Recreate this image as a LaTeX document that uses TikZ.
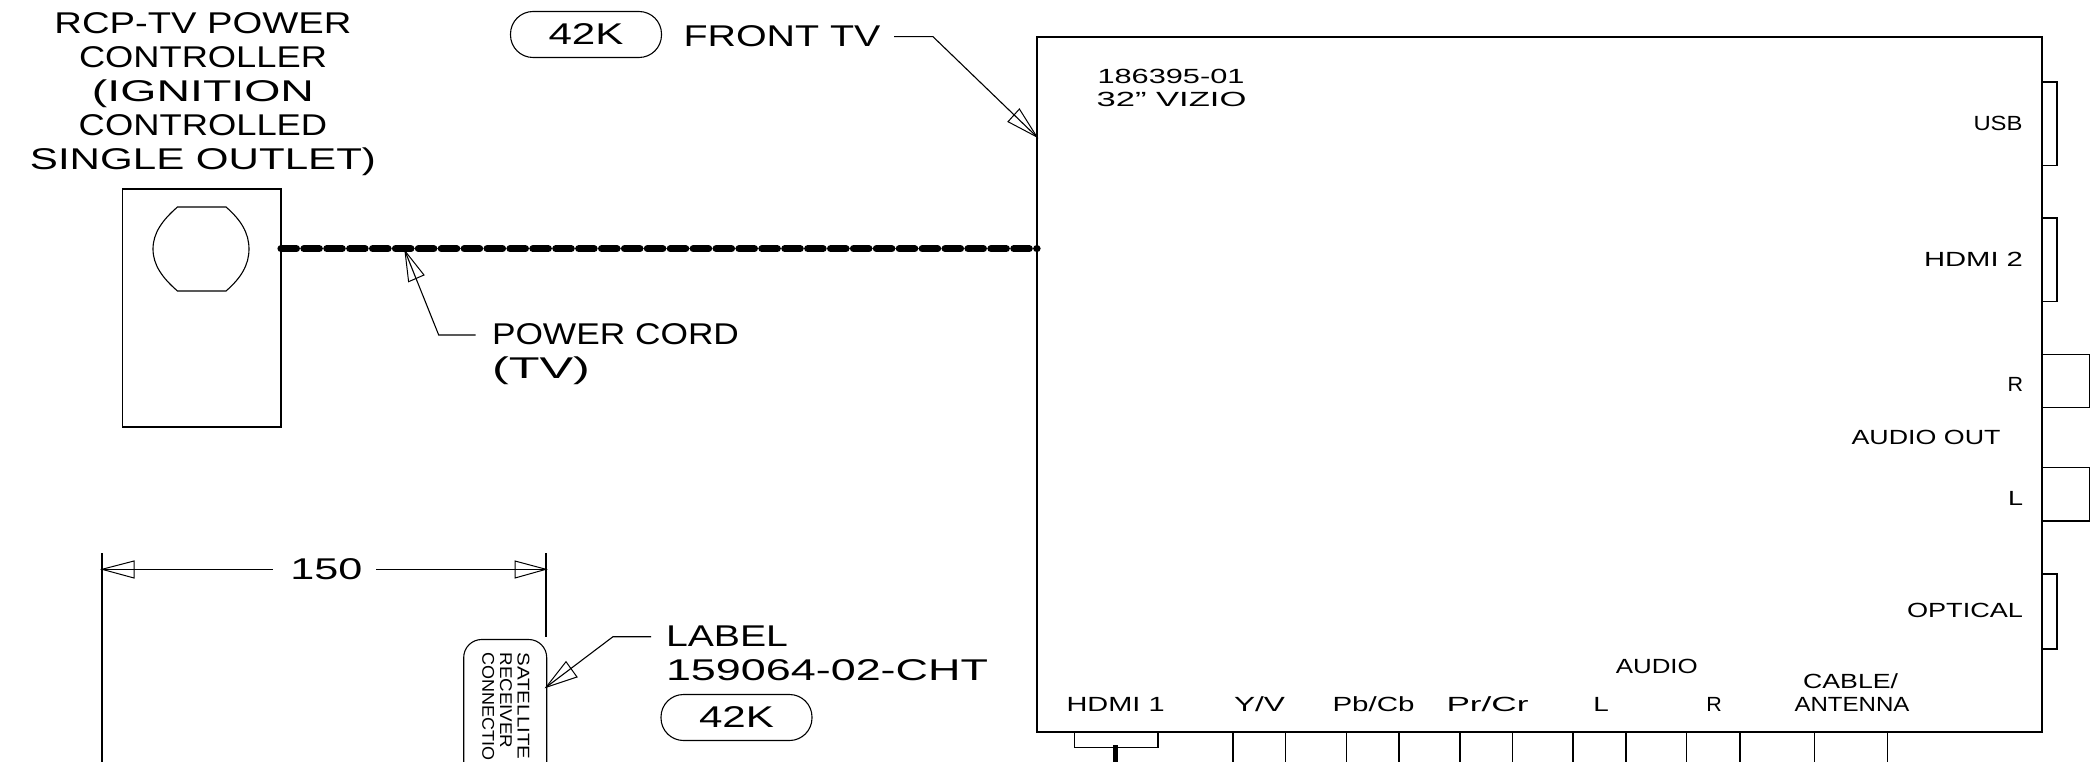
\documentclass[tikz,border=0pt]{standalone}
\usepackage{graphicx}
\usepackage{fontspec}
\setmainfont{Liberation Sans}
\newcommand\wt[2]{\resizebox{#1pt}{\height}{#2}}
\tikzset{
  line/.style={draw=black,line width=1.1pt},
  big/.style={font=\fontsize{30}{34}\selectfont,inner sep=0pt,outer sep=0pt,text=black},
  small/.style={font=\fontsize{20.5}{22}\selectfont,inner sep=0pt,outer sep=0pt,text=black},
  pill/.style={line,rounded corners=22.5pt,minimum width=151pt,minimum height=46pt,inner sep=0pt,outer sep=0pt,font=\fontsize{30}{34}\selectfont},
  head/.style={line,line width=1pt,fill=white,line join=miter},
  cord/.style={draw=black,line width=7.2pt,line cap=round,dash pattern=on 15.4pt off 7.5pt},
  tvbox/.style={draw=black,line width=1.7pt,inner sep=0pt,outer sep=0pt,minimum width=1005pt,minimum height=695.3pt},
  ctrlbox/.style={line,inner sep=0pt,outer sep=0pt,minimum width=158.5pt,minimum height=238pt}
}
\begin{document}
\begin{tikzpicture}[x=1pt,y=-1pt]
\useasboundingbox (0,0) rectangle (2091,762);
\clip (0,0) rectangle (2091,762);
\fill[white] (0,0) rectangle (2091,762);

% boxes
\node[tvbox] (tv) at (1539.5,384.65) {};
\node[ctrlbox] (ctrl) at (201.75,308) {};
\draw[line] (177.5,207) -- (226,207) .. controls (241,220) and (249,233) .. (249,249)
  .. controls (249,265) and (241,278) .. (226,291) -- (177.5,291)
  .. controls (162.5,278) and (153,265) .. (153,249)
  .. controls (153,233) and (162.5,220) .. (177.5,207) -- cycle;

% title
\node[big,align=center,anchor=base] (title) at (203,169.5) {\wt{297}{RCP-TV POWER}\\\wt{248}{CONTROLLER}\\\wt{222}{(IGNITION}\\\wt{248.5}{CONTROLLED}\\\wt{346}{SINGLE OUTLET)}};

% front TV
\node[pill] (pillA) at (586,34.5) {\wt{75}{42K}};
\node[big,anchor=base west] (front) at (683.5,46.7) {\wt{197}{FRONT TV}};
\coordinate (frontA) at (894,36.7);
\coordinate (frontB) at (933,36.7);
\coordinate (frontT) at (1037,137);
\coordinate (frontH1) at (1008,121.7);
\coordinate (frontH2) at (1019.4,109);
\draw[head] (frontT) -- (frontH1) -- (frontH2) -- cycle;
\draw[line] (frontA) -- (frontB) -- (frontT);

% power cord
\coordinate (cordA) at (281,248.7);
\coordinate (cordB) at (1037,248.7);
\draw[cord] (cordA) -- (cordB);
\node[big,align=left,anchor=base west] (cordlabel) at (492,378) {\wt{247}{POWER CORD}\\\wt{98}{(TV)}};
\coordinate (pcA) at (475.5,335);
\coordinate (pcB) at (438.7,335);
\coordinate (pcT) at (405,251);
\coordinate (pcH1) at (408.6,281.7);
\coordinate (pcH2) at (424,275);
\draw[head] (pcT) -- (pcH1) -- (pcH2) -- cycle;
\draw[line] (pcA) -- (pcB) -- (pcT);

% dimension
\coordinate (dimL0) at (102,553);
\coordinate (dimL1) at (102,762);
\coordinate (dimR0) at (546,553);
\coordinate (dimR1) at (546,636.7);
\coordinate (dimL) at (102,569.3);
\coordinate (dimR) at (546,569.3);
\draw[line] (dimL0) -- (dimL1);
\draw[line] (dimR0) -- (dimR1);
\node[big,anchor=base] (dimtext) at (326.5,579) {\wt{72}{150}};
\draw[head] (dimL) -- (134,561) -- (134,578) -- cycle;
\draw[head] (dimR) -- (515,561) -- (515,578) -- cycle;
\draw[line] (dimL) -- (272.6,569.3);
\draw[line] (376.4,569.3) -- (dimR);

% satellite label
\draw[line,rounded corners=18pt] (463.7,775) -- (463.7,639.5) -- (546.7,639.5) -- (546.7,775);
\node[font=\fontsize{17}{17.6}\selectfont,inner sep=0pt,outer sep=0pt,rotate=-90,anchor=north west,align=left] (satlabel) at (529.5,652.5) {\wt{107}{SATELLITE}\\\wt{96}{RECEIVER}\\\wt{108}{CONNECTIO}};
\coordinate (lblA) at (651,636.7);
\coordinate (lblB) at (613,636.7);
\coordinate (lblT) at (546,687.3);
\coordinate (lblH1) at (566,661.7);
\coordinate (lblH2) at (577,677);
\draw[head] (lblT) -- (lblH1) -- (lblH2) -- cycle;
\draw[line] (lblA) -- (lblB) -- (lblT);
\node[big,align=left,anchor=base west] (lbltext) at (666,680) {\wt{122}{LABEL}\\\wt{322}{159064-02-CHT}};
\node[pill] (pillB) at (736.5,717.5) {\wt{75}{42K}};

% TV text
\node[small,anchor=base west] (modelA) at (1097.5,84) {\wt{147}{186395-01}};
\node[small,anchor=base west] (modelB) at (1096.5,106.7) {\wt{150}{32" VIZIO}};

% right ports
\draw[line] (tv.east |- 0,82) -| (2057,165.7) -- (tv.east |- 0,165.7);
\draw[line] (tv.east |- 0,218) -| (2057,301.7) -- (tv.east |- 0,301.7);
\draw[line] (tv.east |- 0,354.3) -| (2089.5,407.7) -- (tv.east |- 0,407.7);
\draw[line] (tv.east |- 0,467.7) -| (2089.5,521) -- (tv.east |- 0,521);
\draw[line] (tv.east |- 0,574) -| (2057,649) -- (tv.east |- 0,649);
\node[small,anchor=base east] (usb) at (2022.5,131) {\wt{49}{USB}};
\node[small,anchor=base east] (hdmib) at (2023,266.7) {\wt{99}{HDMI 2}};
\node[small,anchor=base east] (ro) at (2023,391.7) {\wt{15.5}{R}};
\node[small,anchor=base east] (aout) at (2000.5,444) {\wt{149}{AUDIO OUT}};
\node[small,anchor=base east] (lo) at (2023,505) {\wt{15}{L}};
\node[small,anchor=base east] (opt) at (2023,617.7) {\wt{116}{OPTICAL}};

% bottom labels
\node[small,anchor=base] (hdmia) at (1115.6,711) {\wt{98}{HDMI 1}};
\node[small,anchor=base] (yv) at (1259.5,711) {\wt{51}{Y/V}};
\node[small,anchor=base] (pb) at (1373.5,711) {\wt{82}{Pb/Cb}};
\node[small,anchor=base] (pr) at (1487.5,711) {\wt{82}{Pr/Cr}};
\node[small,anchor=base] (li) at (1601,711) {\wt{15.5}{L}};
\node[small,anchor=base] (ri) at (1714,711) {\wt{15.5}{R}};
\node[small,anchor=base] (audio) at (1656.8,673) {\wt{82}{AUDIO}};
\node[small,anchor=base] (cable) at (1850.6,688) {\wt{95}{CABLE/}};
\node[small,anchor=base] (ant) at (1852,711) {\wt{115}{ANTENNA}};

% bottom ports
\draw[line] (1074.6,732.3) |- (1158,747.7) -- (1158,732.3);
\coordinate (hdmiT) at (1115.6,745);
\coordinate (hdmiB) at (1115.6,770);
\draw[draw=black,line width=5pt] (hdmiT) -- (hdmiB);
\foreach \px in {1233,1285.7,1346.5,1399,1460,1512.5,1573,1626,1686.7,1740,1814.4,1887.5}
  \draw[line] (\px,732.3) -- (\px,770);
\end{tikzpicture}
\end{document}
